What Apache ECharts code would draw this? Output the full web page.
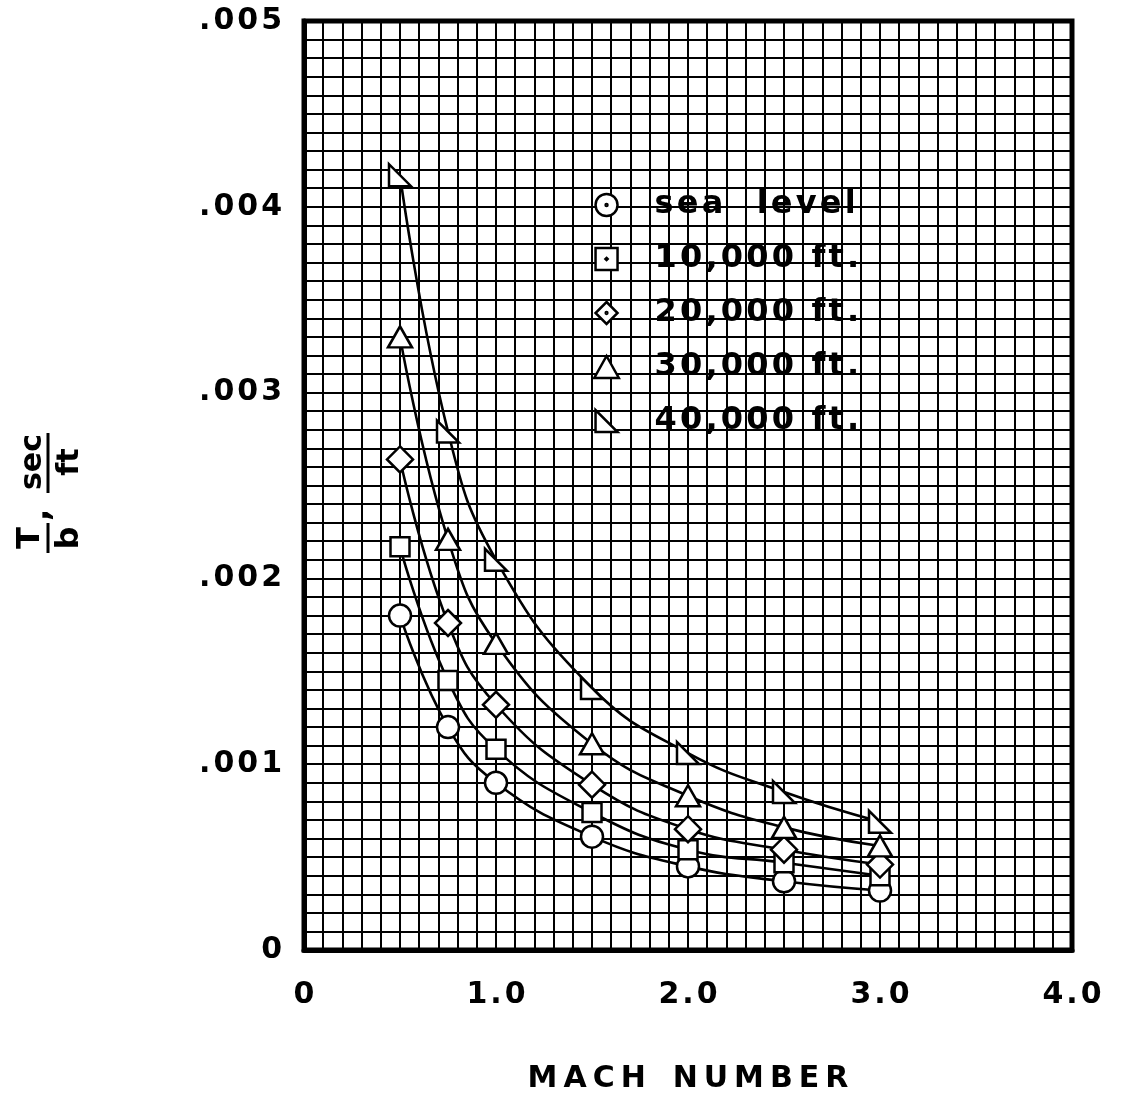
<!DOCTYPE html>
<html>
<head>
<meta charset="utf-8">
<script src="https://cdn.jsdelivr.net/npm/echarts@6/dist/echarts.min.js"></script>
<style>
html,body{margin:0;padding:0;background:#fff;overflow:hidden;}
#chart{width:1122px;height:1099px;}
</style>
</head>
<body>
<div id="chart"></div>
<script>
// Mach numbers (x)
const mach = [0.5, 0.75, 1.0, 1.5, 2.0, 2.5, 3.0];
// T/b, sec/ft for each altitude
const seaLevel = [0.00180, 0.00120, 0.00090, 0.00061, 0.00045, 0.00037, 0.00032];
const ft10k    = [0.00217, 0.00145, 0.00108, 0.00074, 0.00054, 0.00047, 0.00040];
const ft20k    = [0.00264, 0.00176, 0.00132, 0.00089, 0.00065, 0.00054, 0.00046];
const ft30k    = [0.00330, 0.00221, 0.00165, 0.00111, 0.00083, 0.00066, 0.00056];
const ft40k    = [0.00417, 0.00279, 0.00210, 0.00141, 0.00106, 0.00085, 0.00069];
const seriesNames = ['sea level', '10,000 ft.', '20,000 ft.', '30,000 ft.', '40,000 ft.'];
const xTickLabels = ['0', '1.0', '2.0', '3.0', '4.0'];
const yTickLabels = ['0', '.001', '.002', '.003', '.004', '.005'];

const FONT = 'DejaVu Sans';
const TS = '\u2009';
const HS = '\u200A';
function spaced(s, sp) { return s.split('').join(sp || TS); }

const rightTri = 'path://M1,1L1,19L19,19Z';
const legendIcons = [
  'path://M10,1A9,9 0 1,1 10,19A9,9 0 1,1 10,1Z M10,9.2A0.8,0.8 0 1,1 10,10.8A0.8,0.8 0 1,1 10,9.2Z',
  'path://M3,3L17,3L17,17L3,17Z M10,9.3L10.7,10L10,10.7L9.3,10Z',
  'path://M10,0L20,10L10,20L0,10Z M10,9.2A0.8,0.8 0 1,1 10,10.8A0.8,0.8 0 1,1 10,9.2Z',
  'path://M10,1L19.5,18L0.5,18Z',
  rightTri
];

function mk(name, vals, symbol, size) {
  return {
    name: name,
    type: 'line',
    smooth: 0.45,
    data: mach.map((m, i) => [m, vals[i]]),
    symbol: symbol,
    symbolSize: size,
    showAllSymbol: true,
    itemStyle: { color: '#fff', borderColor: '#000', borderWidth: 2.5 },
    lineStyle: { color: '#000', width: 2.6 },
    emphasis: { disabled: true },
    z: 5
  };
}

const chart = echarts.init(document.getElementById('chart'), null, { renderer: 'canvas', width: 1122, height: 1099 });
chart.setOption({
  backgroundColor: '#fff',
  animation: false,
  grid: { left: 304, right: 50, top: 21, bottom: 148, show: true, borderColor: '#000', borderWidth: 5, backgroundColor: 'transparent' },
  xAxis: {
    type: 'value', min: 0, max: 4, interval: 0.1,
    name: spaced('MACH') + TS + '  ' + spaced('NUMBER'),
    nameLocation: 'middle', nameGap: 114,
    nameTextStyle: { fontFamily: FONT, fontWeight: 'bold', fontSize: 30, color: '#000' },
    axisLine: { show: true, lineStyle: { color: '#000', width: 5 } },
    axisTick: { show: false },
    splitLine: { show: true, lineStyle: { color: '#000', width: 2 } },
    axisLabel: {
      margin: 30, color: '#000', fontFamily: FONT, fontWeight: 'bold', fontSize: 30,
      formatter: function (v) {
        const n = Math.round(v * 10);
        if (n % 10 !== 0) return '';
        return spaced(xTickLabels[n / 10], HS);
      }
    }
  },
  yAxis: {
    type: 'value', min: 0, max: 0.005, interval: 0.0001,
    axisLine: { show: true, lineStyle: { color: '#000', width: 5 } },
    axisTick: { show: false },
    splitLine: { show: true, lineStyle: { color: '#000', width: 2 } },
    axisLabel: {
      margin: 22, color: '#000', fontFamily: FONT, fontWeight: 'bold', fontSize: 30,
      formatter: function (v) {
        const n = Math.round(v * 10000);
        if (n % 10 !== 0) return '';
        return spaced(yTickLabels[n / 10], HS);
      }
    }
  },
  legend: {
    orient: 'vertical', left: 588, top: 180,
    itemWidth: 86, itemHeight: 22, itemGap: 14,
    symbolKeepAspect: true,
    itemStyle: { color: '#fff', borderColor: '#000', borderWidth: 2.5 },
    textStyle: { fontFamily: FONT, fontWeight: 'bold', fontSize: 32, lineHeight: 40, color: '#000' },
    formatter: function (name) { return name === 'sea level' ? spaced('sea', HS) + '   ' + spaced('level', HS) : spaced(name, HS); },
    data: seriesNames.map((n, i) => ({ name: n, icon: legendIcons[i] })),
    selectedMode: false
  },
  graphic: [{
    type: 'group', x: 48, y: 493, rotation: Math.PI / 2,
    children: [
      { type: 'text', x: -45, y: -17, style: { text: 'T', font: 'bold 32px "DejaVu Sans"', fill: '#000', align: 'center', verticalAlign: 'middle' } },
      { type: 'line', shape: { x1: -60, y1: 0, x2: -30, y2: 0 }, style: { stroke: '#000', lineWidth: 3 } },
      { type: 'text', x: -45, y: 22, style: { text: 'b', font: 'bold 32px "DejaVu Sans"', fill: '#000', align: 'center', verticalAlign: 'middle' } },
      { type: 'text', x: -22, y: -8, style: { text: ',', font: 'bold 32px "DejaVu Sans"', fill: '#000', align: 'center', verticalAlign: 'middle' } },
      { type: 'text', x: 31, y: -15, style: { text: 'sec', font: 'bold 30px "DejaVu Sans"', fill: '#000', align: 'center', verticalAlign: 'middle' } },
      { type: 'line', shape: { x1: 0, y1: 0, x2: 60, y2: 0 }, style: { stroke: '#000', lineWidth: 3 } },
      { type: 'text', x: 31, y: 22, style: { text: 'ft', font: 'bold 30px "DejaVu Sans"', fill: '#000', align: 'center', verticalAlign: 'middle' } }
    ]
  }],
  series: [
    mk(seriesNames[0], seaLevel, 'circle', 22),
    mk(seriesNames[1], ft10k, 'rect', 19),
    mk(seriesNames[2], ft20k, 'diamond', 26),
    mk(seriesNames[3], ft30k, 'triangle', [24, 21]),
    mk(seriesNames[4], ft40k, rightTri, 22)
  ]
});
</script>
</body>
</html>
